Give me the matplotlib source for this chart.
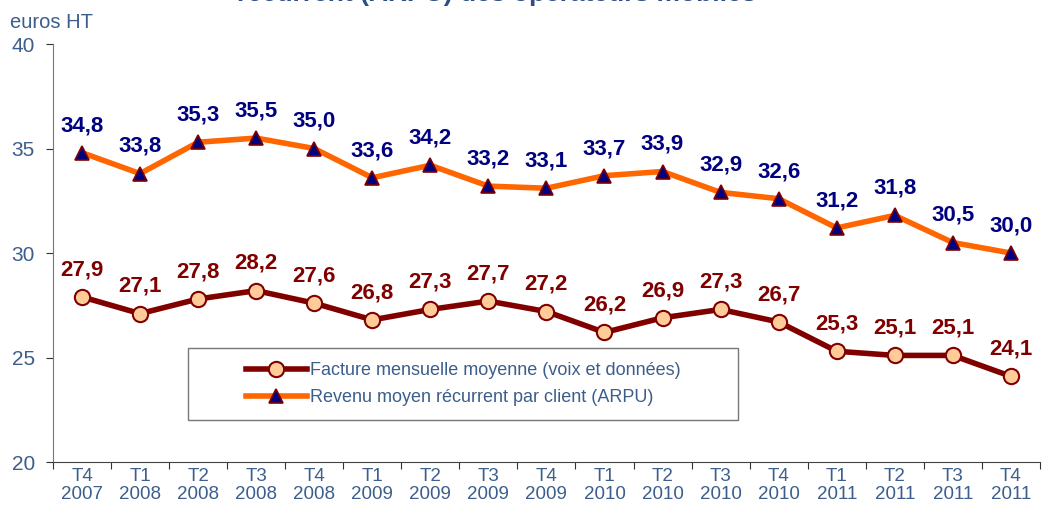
import matplotlib
matplotlib.use("Agg")
import matplotlib.pyplot as plt
from matplotlib.patches import Rectangle
from matplotlib.ticker import FixedLocator, NullFormatter

plt.rcParams['font.family'] = ['Liberation Sans', 'DejaVu Sans']

# data
quarters = ["T4\n2007", "T1\n2008", "T2\n2008", "T3\n2008", "T4\n2008",
            "T1\n2009", "T2\n2009", "T3\n2009", "T4\n2009",
            "T1\n2010", "T2\n2010", "T3\n2010", "T4\n2010",
            "T1\n2011", "T2\n2011", "T3\n2011", "T4\n2011"]
facture = [27.9, 27.1, 27.8, 28.2, 27.6, 26.8, 27.3, 27.7, 27.2,
           26.2, 26.9, 27.3, 26.7, 25.3, 25.1, 25.1, 24.1]
arpu = [34.8, 33.8, 35.3, 35.5, 35.0, 33.6, 34.2, 33.2, 33.1,
        33.7, 33.9, 32.9, 32.6, 31.2, 31.8, 30.5, 30.0]
y_ticks = [20, 25, 30, 35, 40]

blue_txt = '#3B5E8C'
dark_red = '#800000'
navy = '#000080'
orange = '#FF6600'

fig = plt.figure(figsize=(10.43, 5.13), dpi=100)
ax = fig.add_axes([0.0508, 0.0994, 0.9462, 0.8148])

x = list(range(len(quarters)))
ax.plot(x, facture, color=dark_red, lw=4, marker='o', ms=11,
        mfc='#FFCC99', mec=dark_red, mew=1.5,
        label='Facture mensuelle moyenne (voix et données)', zorder=3)
ax.plot(x, arpu, color=orange, lw=4, marker='^', ms=10,
        mfc=navy, mec=dark_red, mew=1.2,
        label='Revenu moyen récurrent par client (ARPU)', zorder=3)

for xi, v in zip(x, facture):
    ax.annotate(f"{v:.1f}".replace('.', ','), (xi, v), xytext=(0, 12),
                textcoords='offset points', ha='center', va='bottom',
                fontsize=16, fontweight='bold', color=dark_red)
for xi, v in zip(x, arpu):
    ax.annotate(f"{v:.1f}".replace('.', ','), (xi, v), xytext=(0, 12),
                textcoords='offset points', ha='center', va='bottom',
                fontsize=16, fontweight='bold', color=navy)

ax.set_xlim(-0.5, len(quarters) - 0.5)
ax.set_ylim(20, 40)
ax.set_yticks(y_ticks)
ax.set_yticklabels([str(t) for t in y_ticks], fontsize=15, color=blue_txt)

ax.xaxis.set_major_locator(FixedLocator([i - 0.5 for i in range(len(quarters) + 1)]))
ax.xaxis.set_major_formatter(NullFormatter())
ax.set_xticks(x, minor=True)
ax.set_xticklabels(quarters, minor=True, fontsize=13.5, color=blue_txt, linespacing=1.1)
ax.tick_params(axis='x', which='minor', length=0, pad=4)
ax.tick_params(axis='x', which='major', length=5, color='#333333')
ax.tick_params(axis='y', length=5, color='#333333', pad=8)

for s in ['top', 'right']:
    ax.spines[s].set_visible(False)
ax.spines['left'].set_color('#777777')
ax.spines['bottom'].set_color('#444444')

# legend box drawn separately, entries centred inside
ax.add_patch(Rectangle((0.137, 0.10), 0.557, 0.172, transform=ax.transAxes,
                       fill=True, facecolor='white', edgecolor='#777777', lw=1, zorder=4))
leg = ax.legend(loc='center', bbox_to_anchor=(0.4155, 0.186), fontsize=13,
                frameon=False, handlelength=3.4, handletextpad=0.15,
                borderpad=0.2, labelspacing=0.55)
leg.set_zorder(5)
for t in leg.get_texts():
    t.set_color(blue_txt)

fig.text(0.01, 0.957, 'euros HT', fontsize=14.5, color=blue_txt, va='center')
fig.text(0.4765, 1.012, 'récurrent (ARPU) des opérateurs mobiles', fontsize=19,
         fontweight='bold', color='#2E4F86', ha='center', va='center')

fig.savefig('out.png', dpi=100)
